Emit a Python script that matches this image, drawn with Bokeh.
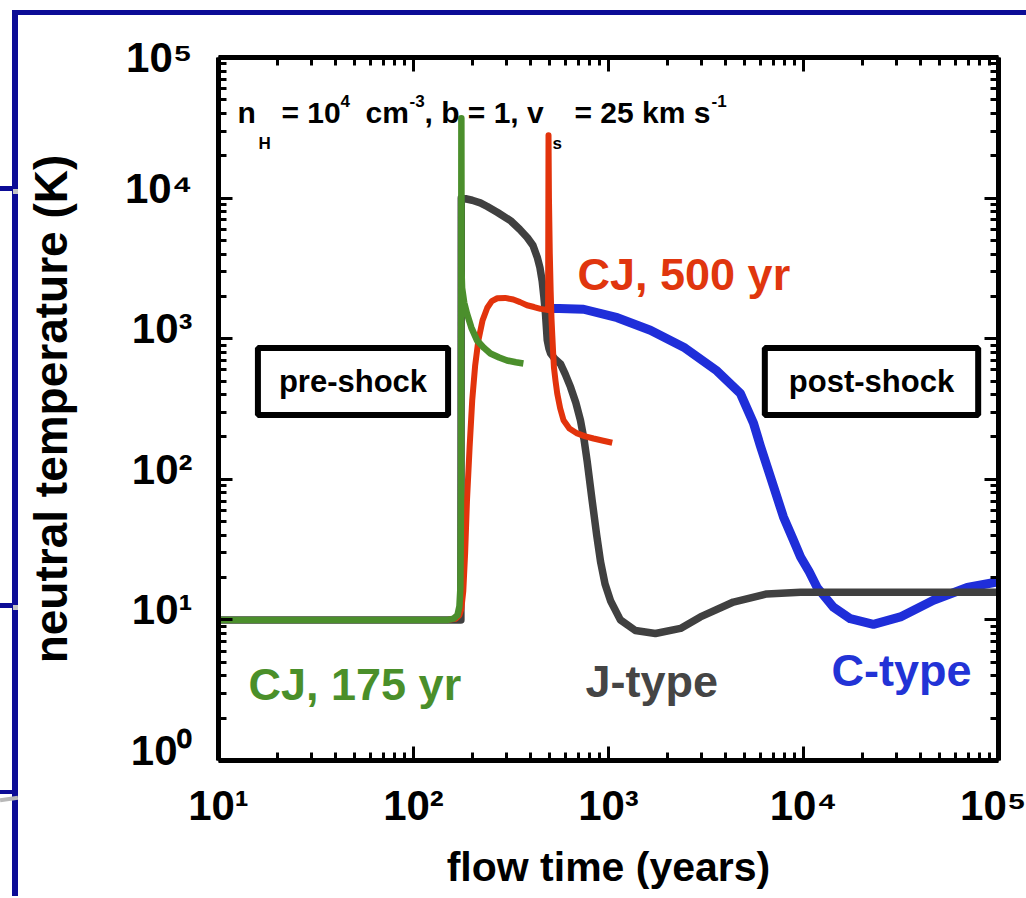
import json
import numpy as np
from bokeh.plotting import figure
from bokeh.layouts import column, row
from bokeh.models import (LogAxis, FixedTicker, CustomJSTickFormatter, Label,
                          Range1d, Div, Spacer, LogScale)
from bokeh.embed import file_html
from bokeh.resources import INLINE

# ---------------- data (flow time in years, neutral temperature in K) -------------
cj175_t = [10, 150, 160, 168, 172, 174, 175.5, 176, 176.4, 177.5, 182, 188, 198, 212,
           230, 248, 275, 302, 335, 366]
cj175_T = [10, 10, 10.2, 10.8, 12.5, 17, 100, 37000, 3000, 2300, 1800, 1510, 1200, 970,
           860, 785, 735, 700, 680, 667]

cj500_t = [10, 150, 165, 172, 176, 180, 184, 188, 194, 200, 207, 215, 226, 239, 252, 269,
           295, 325, 352, 382, 415, 448, 475, 490, 492.5, 495, 500, 505, 510, 515, 520,
           525, 535, 546, 565, 588, 630, 691, 760, 838, 940, 1045]
cj500_T = [10, 10, 10.2, 10.8, 12, 16, 30, 70, 170, 363, 640, 970, 1350, 1660, 1850, 1940,
           1950, 1900, 1820, 1730, 1680, 1630, 1610, 1600, 28000, 10000, 4000, 2200, 1400,
           1050, 800, 625, 500, 407, 320, 263, 230, 212, 202, 195, 188, 182]

jtype_t = [10, 175, 175.8, 178, 185, 200, 220, 239, 270, 314, 350, 383, 410, 431, 445, 457,
           466, 475, 485, 495, 505, 530, 568, 600, 639, 680, 718, 750, 777, 824, 870, 910,
           960, 1024, 1150, 1373, 1740, 2340, 2960, 4370, 6480, 9660, 20000, 100000]
jtype_T = [10, 10, 10000, 9950, 9890, 9650, 9250, 8710, 7900, 6920, 6000, 5250, 4600, 3800,
           3200, 2570, 2000, 1510, 980, 850, 785, 720, 660, 560, 452, 350, 263, 190, 135,
           71, 40, 26, 18, 13.7, 10, 8.4, 8.0, 8.7, 10.5, 13.4, 15.3, 15.7, 15.7, 15.7]

ctype_t = [495, 560, 745, 1110, 1640, 2430, 3600, 4750, 5540, 6000, 6520, 7020, 7890,
           8800, 9660, 10700, 11750, 14260, 17380, 22840, 31400, 46400, 69100, 100000]
ctype_T = [1640, 1640, 1620, 1410, 1150, 870, 590, 407, 251, 174, 122, 89, 54,
           38, 28, 22, 17, 12.3, 10.2, 9.3, 10.5, 13.8, 17, 18.7]

x_decades = [1, 2, 3, 4, 5]
y_decades = [0, 1, 2, 3, 4, 5]
SUP = {0: "\u2070", 1: "\u00b9", 2: "\u00b2", 3: "\u00b3", 4: "\u2074", 5: "\u2075"}
x_tick_labels = {10 ** k: "10" + SUP[k] for k in x_decades}
y_tick_labels = {k: "10" + SUP[k] for k in y_decades}   # by exponent

# ---------------- styling ----------------
FONT = "Liberation Sans"
GREEN, RED, GRAY, BLUE = "#4b8f2c", "#e2330c", "#404040", "#1f2ed9"
NAVY = "#0c0c96"

FIG_X, FIG_Y = 18, 15                 # figure position on the page
W, H = 1026 - FIG_X, 881
PX0, PY0 = 218, 57                    # frame top-left on the page
PX1, PY1 = 998, 760                   # frame bottom-right on the page
PX_PER_DECADE_Y = (PY1 - PY0) / 5.0
LAB_SHIFT = 10 / PX_PER_DECADE_Y      # y tick labels sit ~10px above their ticks

p = figure(width=W, height=H, x_axis_type="log", y_axis_type="log",
           x_range=Range1d(10, 1e5), y_range=Range1d(1, 1e5),
           output_backend="svg", toolbar_location=None, margin=0,
           min_border_left=PX0 - FIG_X, min_border_right=W - (PX1 - FIG_X),
           min_border_top=PY0 - FIG_Y, min_border_bottom=H - (PY1 - FIG_Y),
           background_fill_color="white", border_fill_color="white",
           outline_line_color=None)
p.grid.visible = False
p.extra_y_ranges = {"ylab": Range1d(10 ** (-LAB_SHIFT), 10 ** (5 - LAB_SHIFT))}
p.extra_y_scales = {"ylab": LogScale()}

p.add_layout(LogAxis(), "above")
p.add_layout(LogAxis(), "right")

xmaj = [10.0 ** k for k in x_decades]
xmin = [m * 10.0 ** k for k in x_decades[:-1] for m in range(2, 10)]
ymaj = [10.0 ** k for k in y_decades]
ymin = [m * 10.0 ** k for k in y_decades[:-1] for m in range(2, 10)]

blank = CustomJSTickFormatter(code="return ''")
for ax in p.xaxis:
    ax.ticker = FixedTicker(ticks=xmaj, minor_ticks=xmin)
for ax in p.yaxis:
    ax.ticker = FixedTicker(ticks=ymaj, minor_ticks=ymin)
for ax in list(p.xaxis) + list(p.yaxis):
    ax.axis_line_width = 5
    ax.axis_line_color = "black"
    ax.major_tick_in = 14
    ax.major_tick_out = 0
    ax.major_tick_line_width = 3
    ax.minor_tick_in = 8
    ax.minor_tick_out = 0
    ax.minor_tick_line_width = 3
    ax.major_label_text_font = FONT
    ax.major_label_text_font_style = "bold"
    ax.major_label_text_font_size = "42px"
    ax.major_label_text_color = "black"
    ax.axis_label_text_font = FONT
    ax.axis_label_text_font_style = "bold"
    ax.axis_label_text_color = "black"

for ax in (p.above[0], p.right[0], p.left[0]):
    ax.formatter = blank
    ax.major_label_standoff = 0

xb = p.below[0]
xb.major_label_overrides = x_tick_labels
xb.major_label_standoff = 21
xb.axis_label = "flow time (years)"
xb.axis_label_text_font_size = "41px"
xb.axis_label_standoff = 12

# y tick labels and title on a label-only axis (no line, no ticks), shifted up a little;
# the top decade sits at the very end of the shifted range
ylab_ticks = ymaj[:-1] + [10 ** (5 - LAB_SHIFT) * 0.9999]
ylab_fmt = CustomJSTickFormatter(
    args=dict(labels={str(k): v for k, v in y_tick_labels.items()}),
    code="const k = Math.round(Math.log10(tick)); return labels[String(k)];")
ylab = LogAxis(y_range_name="ylab", ticker=FixedTicker(ticks=ylab_ticks, minor_ticks=[]),
               formatter=ylab_fmt, major_label_standoff=20,
               axis_line_color=None, major_tick_line_color=None,
               minor_tick_line_color=None,
               major_label_text_font=FONT, major_label_text_font_style="bold",
               major_label_text_font_size="42px", major_label_text_color="black",
               axis_label="neutral temperature (K)", axis_label_text_font=FONT,
               axis_label_text_font_style="bold", axis_label_text_font_size="46px",
               axis_label_text_color="black", axis_label_standoff=45)
p.add_layout(ylab, "left")

# ---------------- curves ----------------
p.line(ctype_t, ctype_T, line_color=BLUE, line_width=9, line_join="round")
p.line(jtype_t, jtype_T, line_color=GRAY, line_width=7.5, line_join="round")
p.line(cj500_t, cj500_T, line_color=RED, line_width=6, line_join="round")
p.line(cj175_t, cj175_T, line_color=GREEN, line_width=6.5, line_join="round")


# ---------------- texts inside the frame ----------------
def page_label(text, px, py, size, color="black", align="left", baseline="alphabetic",
               **kw):
    lab = Label(x=10, y=1e5, x_offset=px - PX0, y_offset=-(py - PY0), text=text,
                text_font=FONT, text_font_style="bold", text_font_size=f"{size}px",
                text_color=color, text_align=align, text_baseline=baseline, **kw)
    p.add_layout(lab)
    return lab


# header with sub/superscripts
MAIN, SMALL = 30, 17
page_label("n", 237, 112, MAIN)
page_label("H", 258, 143, SMALL)
page_label("= 10", 281, 112, MAIN)
page_label("4", 340, 100, SMALL)
page_label("cm", 365, 112, MAIN)
page_label("-3", 409, 100, SMALL)
page_label(", b = 1, v", 424, 112, MAIN)
page_label("s", 552, 143, SMALL)
page_label("= 25 km s", 574, 112, MAIN)
page_label("-1", 711, 100, SMALL)

# curve labels
page_label("CJ, 175 yr", 248, 684, 45, color="#4a8f2a")
page_label("CJ, 500 yr", 577, 274, 45, color="#e0360e")
page_label("J-type", 585, 681, 45, color="#454545")
page_label("C-type", 831, 670, 45, color="#2233d6")

# boxed region labels
for txt, cx, cy, padx in [("pre-shock", 352.5, 381, 21), ("post-shock", 871, 381, 24)]:
    page_label(txt, cx, cy, 31, align="center", baseline="middle",
               background_fill_color="white", border_line_color="black",
               border_line_width=6,
               padding=dict(left=padx, right=padx, top=16, bottom=16))

# ---------------- slide frame around the chart ----------------
top_bar = Div(text="", width=W + FIG_X - 12, height=5, margin=0,
              styles={"background-color": NAVY})
left_html = (
    f'<div style="position:relative;width:{FIG_X}px;height:{H}px;">'
    f'<div style="position:absolute;left:12px;top:0;width:6px;height:{H}px;background:{NAVY};"></div>'
    f'<div style="position:absolute;left:0;top:171px;width:14px;height:5px;background:{NAVY};"></div>'
    f'<div style="position:absolute;left:13px;top:174px;width:5px;height:5px;background:#c4c4c4;"></div>'
    f'<div style="position:absolute;left:0;top:588px;width:14px;height:5px;background:{NAVY};"></div>'
    f'<div style="position:absolute;left:13px;top:590px;width:5px;height:5px;background:#c4c4c4;"></div>'
    f'<div style="position:absolute;left:0;top:775px;width:13px;height:4px;background:{NAVY};"></div>'
    f'<div style="position:absolute;left:0;top:782px;width:18px;height:4px;background:#b8b8b8;transform:rotate(-8deg);"></div>'
    f'</div>'
)
left_bar = Div(text=left_html, width=FIG_X, height=H, margin=0)

layout = column(Spacer(width=10, height=10, margin=0),
                row(Spacer(width=12, height=5, margin=0), top_bar, margin=0),
                row(left_bar, p, margin=0),
                margin=0)

open("out.html", "w").write(file_html(layout, INLINE))
